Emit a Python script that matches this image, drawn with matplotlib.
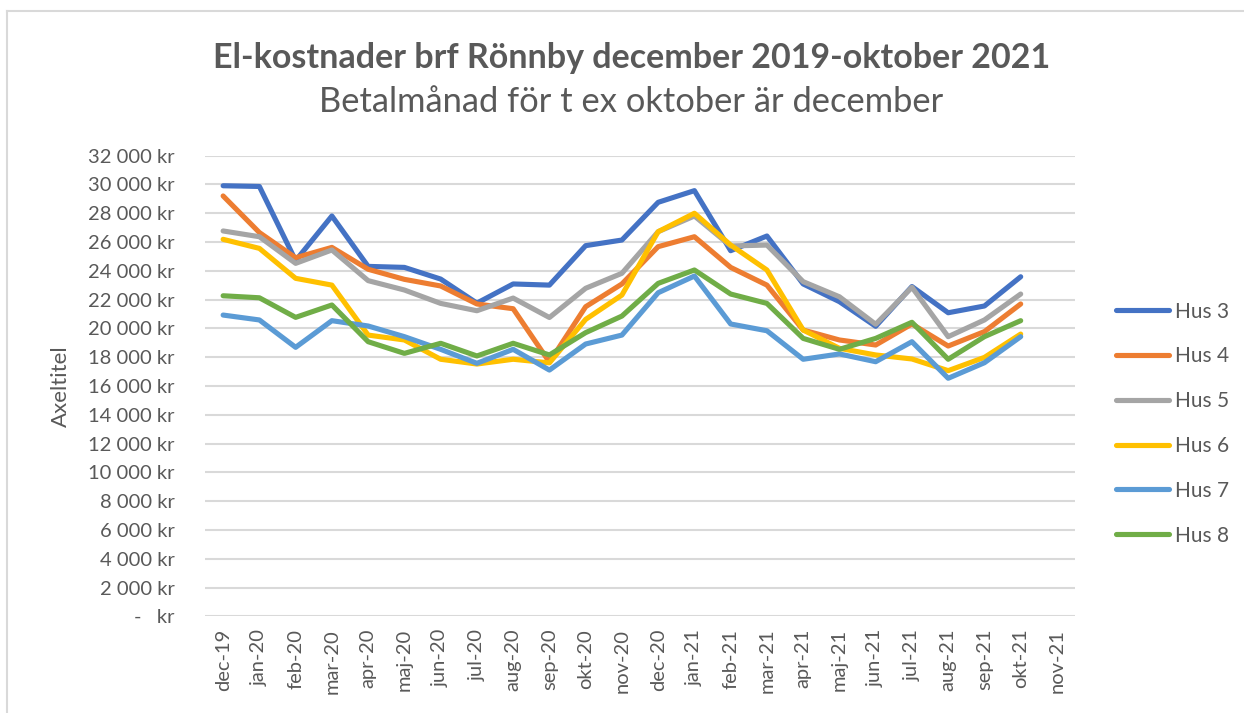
import matplotlib
matplotlib.use("Agg")
import matplotlib.pyplot as plt
from matplotlib.lines import Line2D
from matplotlib.ticker import FuncFormatter

plt.rcParams['font.family'] = ['Lato', 'DejaVu Sans']

months = ["dec-19", "jan-20", "feb-20", "mar-20", "apr-20", "maj-20", "jun-20",
          "jul-20", "aug-20", "sep-20", "okt-20", "nov-20", "dec-20", "jan-21",
          "feb-21", "mar-21", "apr-21", "maj-21", "jun-21", "jul-21", "aug-21",
          "sep-21", "okt-21", "nov-21"]

# values in kr, nov-21 has no data
hus3 = [29900, 29850, 24700, 27800, 24300, 24230, 23420, 21750, 23080, 23000,
        25740, 26130, 28750, 29560, 25390, 26410, 23080, 21850, 20140, 22900,
        21080, 21550, 23580]
hus4 = [29190, 26650, 24900, 25620, 24100, 23400, 22940, 21690, 21360, 17650,
        21500, 23080, 25670, 26360, 24230, 23000, 19880, 19190, 18840, 20300,
        18770, 19770, 21690]
hus5 = [26760, 26360, 24510, 25440, 23310, 22660, 21730, 21220, 22100, 20750,
        22780, 23820, 26710, 27800, 25720, 25780, 23240, 22190, 20280, 22850,
        19420, 20580, 22380]
hus6 = [26180, 25550, 23470, 23000, 19530, 19190, 17850, 17520, 17850, 17600,
        20620, 22310, 26710, 27990, 25780, 24050, 19880, 18610, 18150, 17870,
        17060, 17980, 19600]
hus7 = [20920, 20580, 18680, 20530, 20160, 19420, 18540, 17570, 18540, 17100,
        18910, 19530, 22470, 23630, 20300, 19830, 17850, 18220, 17680, 19070,
        16530, 17610, 19420]
hus8 = [22260, 22120, 20760, 21620, 19070, 18260, 18960, 18080, 18960, 18150,
        19700, 20850, 23120, 24050, 22380, 21730, 19300, 18540, 19300, 20420,
        17850, 19420, 20530]

series = [("Hus 3", hus3, "#4472C4"),
          ("Hus 4", hus4, "#ED7D31"),
          ("Hus 5", hus5, "#A5A5A5"),
          ("Hus 6", hus6, "#FFC000"),
          ("Hus 7", hus7, "#5B9BD5"),
          ("Hus 8", hus8, "#70AD47")]

text_color = "#595959"
grid_color = "#D9D9D9"

fig = plt.figure(figsize=(12.44, 7.13), dpi=100)
ax = fig.add_axes([0.1648, 0.1356, 0.6994, 0.6463])

x = list(range(len(months)))
for name, vals, col in series:
    ax.plot(x[:len(vals)], vals, color=col, lw=3.7, label=name,
            solid_capstyle='round', solid_joinstyle='round')

ax.set_xlim(-0.5, len(months) - 0.5)
ax.set_ylim(0, 32000)
ax.set_yticks(range(0, 32001, 2000))


def kr(v, pos):
    if v == 0:
        return "-   kr"
    return f"{int(v):,} kr".replace(",", " ")


ax.yaxis.set_major_formatter(FuncFormatter(kr))
ax.set_xticks(x)
ax.set_xticklabels(months, rotation=90)
ax.tick_params(axis='both', length=0, colors=text_color, labelsize=14.5)
ax.tick_params(axis='y', pad=22)
ax.tick_params(axis='x', pad=9)
ax.grid(axis='y', color=grid_color, lw=1.5)
ax.set_axisbelow(True)
for s in ax.spines.values():
    s.set_visible(False)

ax.set_ylabel("Axeltitel", fontsize=16, color=text_color, labelpad=12)

fig.text(0.5076, 0.918, "El-kostnader brf Rönnby december 2019-oktober 2021",
         ha='center', va='center', fontsize=24.5, fontweight='bold', color=text_color)
fig.text(0.5076, 0.857, "Betalmånad för t ex oktober är december",
         ha='center', va='center', fontsize=24.8, color=text_color)

handles = [Line2D([0], [0], color=col, lw=3.7, solid_capstyle='round')
           for _, _, col in series]
fig.legend(handles, [s[0] for s in series], loc='center left',
           bbox_to_anchor=(0.897, 0.406), frameon=False, fontsize=15,
           labelcolor=text_color, handlelength=2.55, handletextpad=0.3,
           labelspacing=1.19, borderpad=0, borderaxespad=0)

# chart area border (cut at right and bottom)
fig.add_artist(Line2D([7 / 1244, 7 / 1244], [0, 1 - 11 / 713],
                      transform=fig.transFigure, color=grid_color, lw=1.5))
fig.add_artist(Line2D([7 / 1244, 1], [1 - 11 / 713, 1 - 11 / 713],
                      transform=fig.transFigure, color=grid_color, lw=1.5))

fig.savefig("out.png", dpi=100)
